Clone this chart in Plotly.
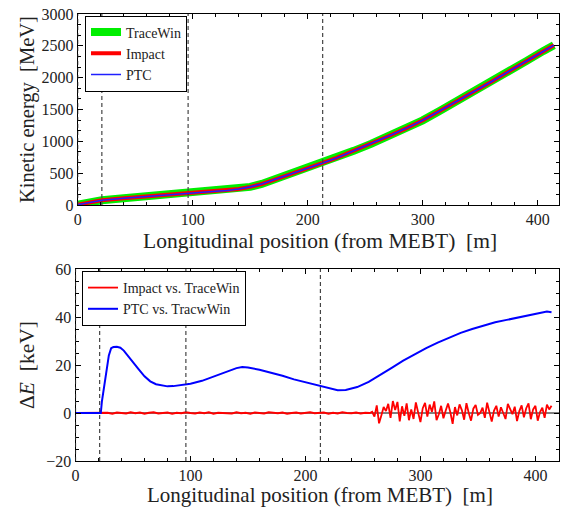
import plotly.graph_objects as go

# ---------------- data ----------------
# Top panel: kinetic energy [MeV] vs longitudinal position [m]
energy_s = [0, 10, 21, 40, 60, 80, 96, 110, 120, 130, 140, 150, 160, 170, 180, 190, 200,
            213, 225, 240, 255, 270, 285, 300, 315, 330, 345, 360, 375, 390, 405, 414]
energy_tracewin = [5, 40, 75, 105, 135, 165, 190, 205, 215, 228, 250, 285, 330, 392, 452, 512, 575,
                   660, 740, 850, 960, 1080, 1200, 1330, 1480, 1630, 1780, 1940, 2100, 2260, 2420, 2510]
energy_impact = energy_tracewin
energy_ptc = energy_tracewin

# Bottom panel: PTC vs TraceWin energy difference [keV]
ptc_s = [0, 22, 23, 25, 27, 29, 31, 33, 36, 39, 42, 45, 50, 55, 60, 65, 70, 75, 80, 85, 90, 96,
         100, 110, 120, 130, 140, 145, 150, 160, 170, 180, 190, 200, 210, 220, 228, 235, 245,
         255, 265, 275, 285, 295, 305, 315, 325, 335, 345, 355, 365, 375, 385, 395, 405, 410, 414]
ptc_dE = [0, 0, 5, 12, 19, 24, 27, 27.5, 27.6, 27.2, 26.0, 24.3, 21.5, 18.2, 15.3, 13.2, 12.0, 11.4,
          11.1, 11.2, 11.5, 11.8, 12.2, 13.4, 15.2, 17.0, 18.7, 19.2, 19.0, 18.0, 16.8, 15.5, 14.0,
          12.8, 11.6, 10.2, 9.5, 9.6, 10.8, 13.0, 15.8, 18.8, 21.8, 24.5, 27.0, 29.3, 31.5, 33.4,
          35.0, 36.5, 37.8, 38.8, 39.8, 40.7, 41.5, 42.3, 42.0]

# Impact vs TraceWin energy difference [keV]: quiet part (every 4 m from 0 m)
impact_quiet_start, impact_quiet_step = 0, 4
impact_quiet_dE = [0, 0, 0, 0, 0, 0, -0.2, 0.1, -0.3, 0.2, 0.0, -0.2, 0.3, -0.1, 0.2, -0.3,
                   0.1, 0.3, -0.2, 0.0, 0.2, -0.3, 0.1, -0.1, 0.3, 0.0, -0.2, 0.2, -0.1, 0.3,
                   -0.3, 0.1, 0.0, 0.2, -0.2, 0.3, -0.1, 0.1, -0.3, 0.2, 0.0, -0.2, 0.3, 0.1,
                   -0.1, 0.2, -0.3, 0.0, 0.2, -0.2, 0.1, 0.3, -0.1, 0.0, 0.2, -0.3, 0.1, -0.2,
                   0.3, 0.0, -0.1, 0.2, -0.2, 0.1, 0.0]
# noisy part (every 2 m from 258 m)
impact_noisy_start, impact_noisy_step = 258, 2
impact_noisy_dE = [0.5, -1.5, 3.2, -4.3, -1.0, 2.5, 0.8, 3.8, -2.0, 5.0, 1.2, 4.6, -3.5, 2.8, -1.2,
                   4.0, -3.0, 1.5, -2.5, 4.4, 0.2, -3.8, 2.0, 4.2, -1.5, 3.5, 0.5, 4.8, -3.0, -0.5,
                   3.0, -2.2, 1.0, 4.0, 0.3, -4.5, 2.5, -1.0, 3.6, 1.2, -2.8, 4.1, 0.0, -3.2, 1.8,
                   3.4, -0.8, 0.0, 2.2, -2.0, 4.3, 0.5, -3.6, 1.0, 3.0, -1.5, 2.4, 0.0, -2.5, 3.8,
                   1.2, -0.5, 2.6, -3.4, 0.8, 3.2, -1.8, 2.0, 4.0, -2.6, 1.5, 3.0, -3.2, 0.4, 2.2,
                   -2.0, 3.5, 1.5, 3.0]

impact_s = ([impact_quiet_start + impact_quiet_step * i for i in range(len(impact_quiet_dE))] +
            [impact_noisy_start + impact_noisy_step * i for i in range(len(impact_noisy_dE))])
impact_dE = impact_quiet_dE + impact_noisy_dE

# section boundaries [m]
boundaries = [0, 21, 96, 213]

x_ticks = [0, 100, 200, 300, 400]
top_y_ticks = [0, 500, 1000, 1500, 2000, 2500, 3000]
bot_y_ticks = [-20, 0, 20, 40, 60]

# ---------------- figure ----------------
W, H = 561, 508
SERIF = "Liberation Serif"

fig = go.Figure()

fig.add_trace(go.Scatter(x=energy_s, y=energy_tracewin, mode="lines", name="TraceWin",
                         line=dict(color="#00ee00", width=8), xaxis="x", yaxis="y", legend="legend"))
fig.add_trace(go.Scatter(x=energy_s, y=energy_impact, mode="lines", name="Impact",
                         line=dict(color="#ff0000", width=4), xaxis="x", yaxis="y", legend="legend"))
fig.add_trace(go.Scatter(x=energy_s, y=energy_ptc, mode="lines", name="PTC",
                         line=dict(color="#2020ff", width=1.6), xaxis="x", yaxis="y", legend="legend"))

fig.add_trace(go.Scatter(x=impact_s, y=impact_dE, mode="lines", name="Impact vs. TraceWin",
                         line=dict(color="#ff0000", width=1.8), xaxis="x2", yaxis="y2", legend="legend2"))
fig.add_trace(go.Scatter(x=ptc_s, y=ptc_dE, mode="lines", name="PTC vs. TracwWin",
                         line=dict(color="#0000ff", width=2), xaxis="x2", yaxis="y2", legend="legend2"))

def px_x(p):
    return p / W

def px_y(p):
    return 1 - p / H

axis_common = dict(showline=True, linecolor="black", linewidth=1, mirror="allticks",
                   ticks="inside", ticklen=5, tickcolor="black", showgrid=False, zeroline=False,
                   automargin=False,
                   tickfont=dict(family=SERIF, size=16, color="#222"))

fig.update_layout(
    width=W, height=H, margin=dict(l=0, r=0, t=0, b=0, pad=0, autoexpand=False),
    plot_bgcolor="white", paper_bgcolor="white", showlegend=True,
    xaxis=dict(domain=[px_x(77.7), px_x(559)], range=[0, 418.5], anchor="y",
               tickvals=x_ticks, minor=dict(dtick=20, ticks="inside", ticklen=3, tickcolor="black"),
               **axis_common),
    yaxis=dict(domain=[px_y(205), px_y(14)], range=[0, 3000], anchor="x",
               tickvals=top_y_ticks, minor=dict(dtick=500 / 3, ticks="inside", ticklen=3, tickcolor="black"),
               **axis_common),
    xaxis2=dict(domain=[px_x(75.5), px_x(559)], range=[0, 420.5], anchor="y2",
                tickvals=x_ticks, minor=dict(dtick=20, ticks="inside", ticklen=3, tickcolor="black"),
                **axis_common),
    yaxis2=dict(domain=[px_y(461), px_y(269)], range=[-20, 60], anchor="x2",
                tickvals=bot_y_ticks, ticktext=["\u221220", "0", "20", "40", "60"],
                minor=dict(dtick=5, ticks="inside", ticklen=3, tickcolor="black"),
                **axis_common),
    legend=dict(x=px_x(85), y=px_y(15.5), xanchor="left", yanchor="top",
                bgcolor="white", bordercolor="black", borderwidth=1,
                font=dict(family=SERIF, size=14, color="#222"),
                itemwidth=30, tracegroupgap=0),
    legend2=dict(x=px_x(82), y=px_y(271), xanchor="left", yanchor="top",
                 bgcolor="white", bordercolor="black", borderwidth=1,
                 font=dict(family=SERIF, size=14, color="#222"),
                 itemwidth=30, tracegroupgap=0),
)

# dashed section boundaries
shapes = []
for b in boundaries:
    for xr, yr in (("x", "y domain"), ("x2", "y2 domain")):
        shapes.append(dict(type="line", xref=xr, yref=yr, x0=b, x1=b, y0=0, y1=1,
                           line=dict(color="#444", width=1.2, dash="4px,3px"), layer="above"))
# zero line in bottom panel
shapes.append(dict(type="line", xref="x2 domain", yref="y2", x0=0, x1=1, y0=0, y1=0,
                   line=dict(color="black", width=1), layer="below"))
fig.update_layout(shapes=shapes)

# axis titles
title_font = dict(family=SERIF, size=21.5, color="#222")
annotations = [
    dict(text="Longitudinal position (from MEBT)  [m]", xref="paper", yref="paper",
         x=px_x(320), y=px_y(241), showarrow=False, font=title_font, xanchor="center", yanchor="middle"),
    dict(text="Longitudinal position (from MEBT)  [m]", xref="paper", yref="paper",
         x=px_x(320), y=px_y(507.5), showarrow=False, font=dict(family=SERIF, size=21, color="#222"),
         xanchor="center", yanchor="bottom", borderpad=0),
    dict(text="Kinetic energy  [MeV]", xref="paper", yref="paper", textangle=-90,
         x=px_x(27), y=px_y(110), showarrow=False, font=dict(family=SERIF, size=20.5, color="#222"),
         xanchor="center", yanchor="middle"),
    dict(text="\u0394<i>E</i>  [keV]", xref="paper", yref="paper", textangle=-90,
         x=px_x(27), y=px_y(365), showarrow=False, font=title_font, xanchor="center", yanchor="middle"),
]
fig.update_layout(annotations=annotations)

fig.write_html("out.html", config={"displayModeBar": False},
               post_script="document.body.style.margin='0px';document.body.style.overflow='hidden';")
